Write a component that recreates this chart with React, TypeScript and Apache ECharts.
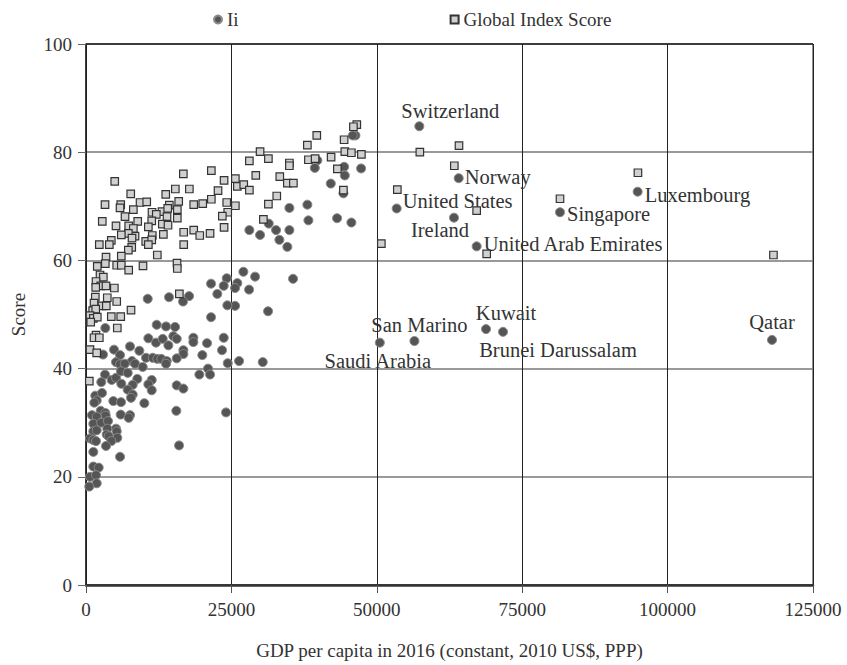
import React, { useEffect, useRef } from "react";
import * as echarts from "echarts";

const FONT = '"Liberation Serif", "DejaVu Serif", serif';

const seriesNames = ["Ii", "Global Index Score"];
const xTickStep = 25000;
const yTickStep = 20;
const xAxisTitle = "GDP per capita in 2016 (constant, 2010 US$, PPP)";
const yAxisTitle = "Score";

// Ii — unlabeled countries [GDP per capita, score]
const iiPoints: number[][] = [
  [46320, 83.1], [45870, 83.1], [39780, 78.5], [39340, 77.1], [44380, 77.3], [44500, 75.7], [47300, 77.0], [42090, 74.2], [44260, 72.4], [34970, 69.7],
  [38060, 70.3], [31420, 66.8], [28090, 65.6], [29930, 64.7], [32680, 65.6], [34970, 65.6], [33250, 63.8], [34620, 62.5], [38240, 67.4], [43170, 67.8],
  [45630, 67.0], [27060, 57.9], [29070, 57.0], [26020, 55.8], [25630, 54.9], [28040, 54.6], [35600, 56.6], [25630, 51.6], [31300, 50.6], [26320, 41.4],
  [30390, 41.2], [24200, 56.7], [21500, 55.7], [23680, 55.3], [22580, 53.8], [14280, 53.2], [10610, 52.9], [17720, 53.4], [16680, 52.4], [24300, 51.7],
  [21500, 49.5], [3320, 47.5], [12160, 48.1], [13760, 47.8], [15310, 47.7], [10720, 45.6], [12040, 44.8], [13190, 45.5], [14160, 44.3], [15020, 46.0],
  [15600, 45.5], [18460, 45.7], [18460, 44.9], [20810, 44.7], [23680, 45.7], [23390, 43.4], [20000, 42.5], [16740, 43.4], [16740, 42.7], [15600, 41.9],
  [4820, 43.5], [7570, 44.1], [9170, 43.3], [5850, 42.5], [2920, 42.6], [10320, 42.0], [11470, 42.0], [12260, 41.8], [12950, 41.8], [13880, 41.4],
  [13760, 40.9], [7910, 41.4], [8430, 40.9], [5160, 41.2], [5850, 40.8], [6660, 40.9], [9750, 40.3], [24370, 41.0], [20980, 40.0], [19490, 38.9],
  [21330, 38.9], [3270, 38.9], [2630, 37.5], [4420, 37.9], [5160, 38.3], [6020, 39.5], [7170, 39.2], [8820, 38.1], [11300, 37.9], [6070, 37.2],
  [8030, 37.0], [10720, 37.1], [7170, 36.1], [8030, 35.2], [7740, 34.6], [11300, 36.0], [15600, 36.9], [16740, 36.3], [1600, 35.0], [1840, 34.1],
  [1430, 33.7], [2750, 35.5], [4700, 34.0], [6020, 33.8], [10030, 33.6], [2530, 32.2], [3320, 31.8], [3390, 31.3], [1030, 31.4], [1840, 31.1],
  [1260, 29.8], [2630, 30.0], [3780, 30.3], [5970, 31.5], [7570, 31.4], [7340, 30.9], [15530, 32.2], [24080, 31.9], [3660, 28.9], [5160, 28.9],
  [5280, 28.4], [5380, 27.2], [1260, 28.4], [1840, 28.6], [3560, 27.8], [3900, 27.5], [690, 27.1], [1260, 26.8], [1720, 26.6], [4350, 26.6],
  [3440, 25.7], [16000, 25.8], [1260, 24.6], [5850, 23.7], [1260, 21.9], [2180, 21.7], [690, 20.0], [1720, 20.3], [1840, 18.8], [570, 18.2],
];

// Ii — labeled countries
const labeledNames = [
  "Switzerland", "Norway", "United States", "Ireland", "United Arab Emirates", "Singapore",
  "Luxembourg", "Qatar", "Kuwait", "Brunei Darussalam", "San Marino", "Saudi Arabia",
];
const labeledGdp = [57310, 64080, 53420, 63270, 67170, 81500, 94850, 117950, 68780, 71700, 56470, 50520];
const labeledScore = [84.8, 75.2, 69.6, 67.9, 62.6, 68.9, 72.7, 45.3, 47.3, 46.8, 45.1, 44.8];

// Global Index Score [GDP per capita, score]
const giPoints: number[][] = [
  [21550, 76.6], [16740, 76.0], [4940, 74.6], [23740, 74.8], [15360, 73.2], [17770, 73.2], [22700, 72.9], [7690, 72.3], [13710, 72.2], [3270, 70.3],
  [5970, 70.3], [5850, 69.7], [9290, 70.7], [10440, 70.8], [15940, 70.9], [14330, 70.2], [18520, 70.3], [20070, 70.5], [21550, 71.3], [24200, 70.7],
  [8140, 69.4], [11350, 68.9], [13070, 69.0], [15700, 69.4], [14050, 69.6], [12090, 68.5], [24370, 68.9], [6710, 68.1], [13930, 68.1], [15700, 67.8],
  [11300, 67.3], [8890, 67.2], [2800, 67.2], [23440, 68.2], [5160, 66.4], [7340, 66.4], [10720, 66.2], [13120, 66.7], [14100, 66.5], [8140, 65.9],
  [23740, 66.1], [16800, 65.2], [18520, 65.6], [19560, 64.6], [21330, 65.0], [13300, 64.8], [11400, 64.6], [8430, 64.5], [7280, 65.0], [6070, 64.7],
  [4350, 63.7], [2290, 62.9], [4010, 62.9], [7910, 64.1], [10270, 63.5], [11300, 63.8], [10720, 62.9], [16800, 62.9], [7860, 62.4], [7280, 61.9],
  [3440, 60.6], [6070, 60.8], [12260, 61.0],
  [46560, 85.1], [45980, 84.7], [39680, 83.1], [44380, 82.3], [38060, 81.3], [29930, 80.1], [44500, 80.1], [45630, 79.9], [47350, 79.6], [42140, 79.1],
  [38240, 78.6], [39390, 78.8], [34970, 78.0], [34970, 77.5], [28090, 78.4], [31360, 78.8], [43220, 76.9], [25680, 75.1], [29190, 75.7], [33320, 75.5],
  [26020, 73.7], [27120, 74.0], [28090, 73.0], [34620, 74.3], [35660, 74.3], [32800, 71.9], [44260, 73.0], [25680, 70.1], [31360, 70.4], [30500, 67.6],
  [57400, 80.0], [64130, 81.2], [63330, 77.5], [53530, 73.1], [67170, 69.2], [68890, 61.2], [81500, 71.4], [94900, 76.2], [118200, 61.0], [50780, 63.1],
  [3320, 59.4], [1940, 58.9], [5280, 59.1], [6070, 59.1], [7340, 58.2], [9800, 59.0], [15650, 59.5], [15700, 58.5], [2410, 57.3], [2980, 56.9],
  [1720, 56.1], [2530, 55.3], [3440, 55.3], [1670, 55.0], [4870, 54.9], [16050, 53.8], [1600, 53.2], [3660, 53.1], [5280, 52.4], [1380, 52.1],
  [2750, 51.6], [3490, 51.6], [1150, 50.7], [1670, 51.0], [7740, 50.8], [4350, 49.6], [5970, 49.6], [690, 49.8], [1260, 49.3], [1940, 49.5],
  [810, 48.6], [5380, 47.5], [1720, 46.2], [1380, 45.7], [2290, 45.7], [690, 43.5], [1840, 42.9], [570, 37.7],
];

// label placement (style only)
const labelPlacement: Record<string, { position: string; offset: number[] }> = {
  "Switzerland": { position: "top", offset: [31, 2] },
  "Norway": { position: "right", offset: [-1, -1] },
  "United States": { position: "right", offset: [-1, -7] },
  "Ireland": { position: "bottom", offset: [-14, -5] },
  "United Arab Emirates": { position: "right", offset: [0, -2] },
  "Singapore": { position: "right", offset: [0, 2] },
  "Luxembourg": { position: "right", offset: [0, 3] },
  "Qatar": { position: "top", offset: [0, 0] },
  "Kuwait": { position: "top", offset: [20, 1] },
  "Brunei Darussalam": { position: "bottom", offset: [55, 1] },
  "San Marino": { position: "top", offset: [5, 1] },
  "Saudi Arabia": { position: "bottom", offset: [-2, 1] },
};

export default function App() {
  const ref = useRef<HTMLDivElement>(null);
  useEffect(() => {
    if (!ref.current) return;
    const chart = echarts.init(ref.current, null, { renderer: "svg" });
    const textBase = { fontFamily: FONT, fontSize: 19, color: "#333" };

    const iiData: any[] = iiPoints.map((p) => ({ value: p }));
    labeledNames.forEach((name, i) => {
      const pl = labelPlacement[name];
      iiData.push({
        name,
        value: [labeledGdp[i], labeledScore[i]],
        label: {
          show: true,
          formatter: name,
          position: pl.position,
          offset: pl.offset,
          distance: 2,
          ...textBase,
          fontSize: 20.5,
        },
      });
    });

    chart.setOption({
      animation: false,
      backgroundColor: "#fff",
      textStyle: { fontFamily: FONT },
      legend: {
        data: seriesNames,
        left: 208,
        top: 5,
        itemGap: 211,
        itemWidth: 8,
        itemHeight: 8,
        textStyle: { ...textBase },
      },
      grid: {
        left: 86,
        right: 34,
        top: 44,
        bottom: 78,
        show: true,
        borderColor: "#222",
        borderWidth: 1,
      },
      xAxis: {
        type: "value",
        min: 0,
        max: 125000,
        interval: xTickStep,
        name: xAxisTitle,
        nameLocation: "middle",
        nameGap: 56,
        nameTextStyle: { ...textBase },
        axisLine: { show: true, lineStyle: { color: "#333", width: 2.5 } },
        axisTick: { show: true, inside: false, length: 8, lineStyle: { color: "#555", width: 1 } },
        axisLabel: { ...textBase, margin: 15, formatter: (v: number) => String(v) },
        splitLine: { show: true, lineStyle: { color: "#222", width: 1 } },
      },
      yAxis: {
        type: "value",
        min: 0,
        max: 100,
        interval: yTickStep,
        name: yAxisTitle,
        nameLocation: "middle",
        nameGap: 58,
        nameRotate: 90,
        nameTextStyle: { ...textBase },
        axisLine: { show: true, lineStyle: { color: "#222", width: 1.5 } },
        axisTick: { show: true, inside: false, length: 8, lineStyle: { color: "#666", width: 1 } },
        axisLabel: { ...textBase, margin: 14 },
        splitLine: {
          show: true,
          lineStyle: { color: ["#333", "#777", "#777", "#777", "#777", "#222"], width: 1.5 },
        },
      },
      series: [
        {
          name: seriesNames[0],
          type: "scatter",
          symbol: "circle",
          symbolSize: 9,
          itemStyle: { color: "#555", borderColor: "#8a8a8a", borderWidth: 1, opacity: 1 },
          emphasis: { disabled: true },
          data: iiData,
          z: 2,
        },
        {
          name: seriesNames[1],
          type: "scatter",
          symbol: "rect",
          symbolSize: 7.5,
          itemStyle: { color: "#d0d0d0", borderColor: "#333", borderWidth: 1.2, opacity: 1 },
          emphasis: { disabled: true },
          data: giPoints,
          z: 3,
        },
      ],
    });
    return () => chart.dispose();
  }, []);
  return (
    <div
      ref={ref}
      style={{ position: "absolute", left: 0, top: 0, width: 847, height: 665 }}
    />
  );
}
